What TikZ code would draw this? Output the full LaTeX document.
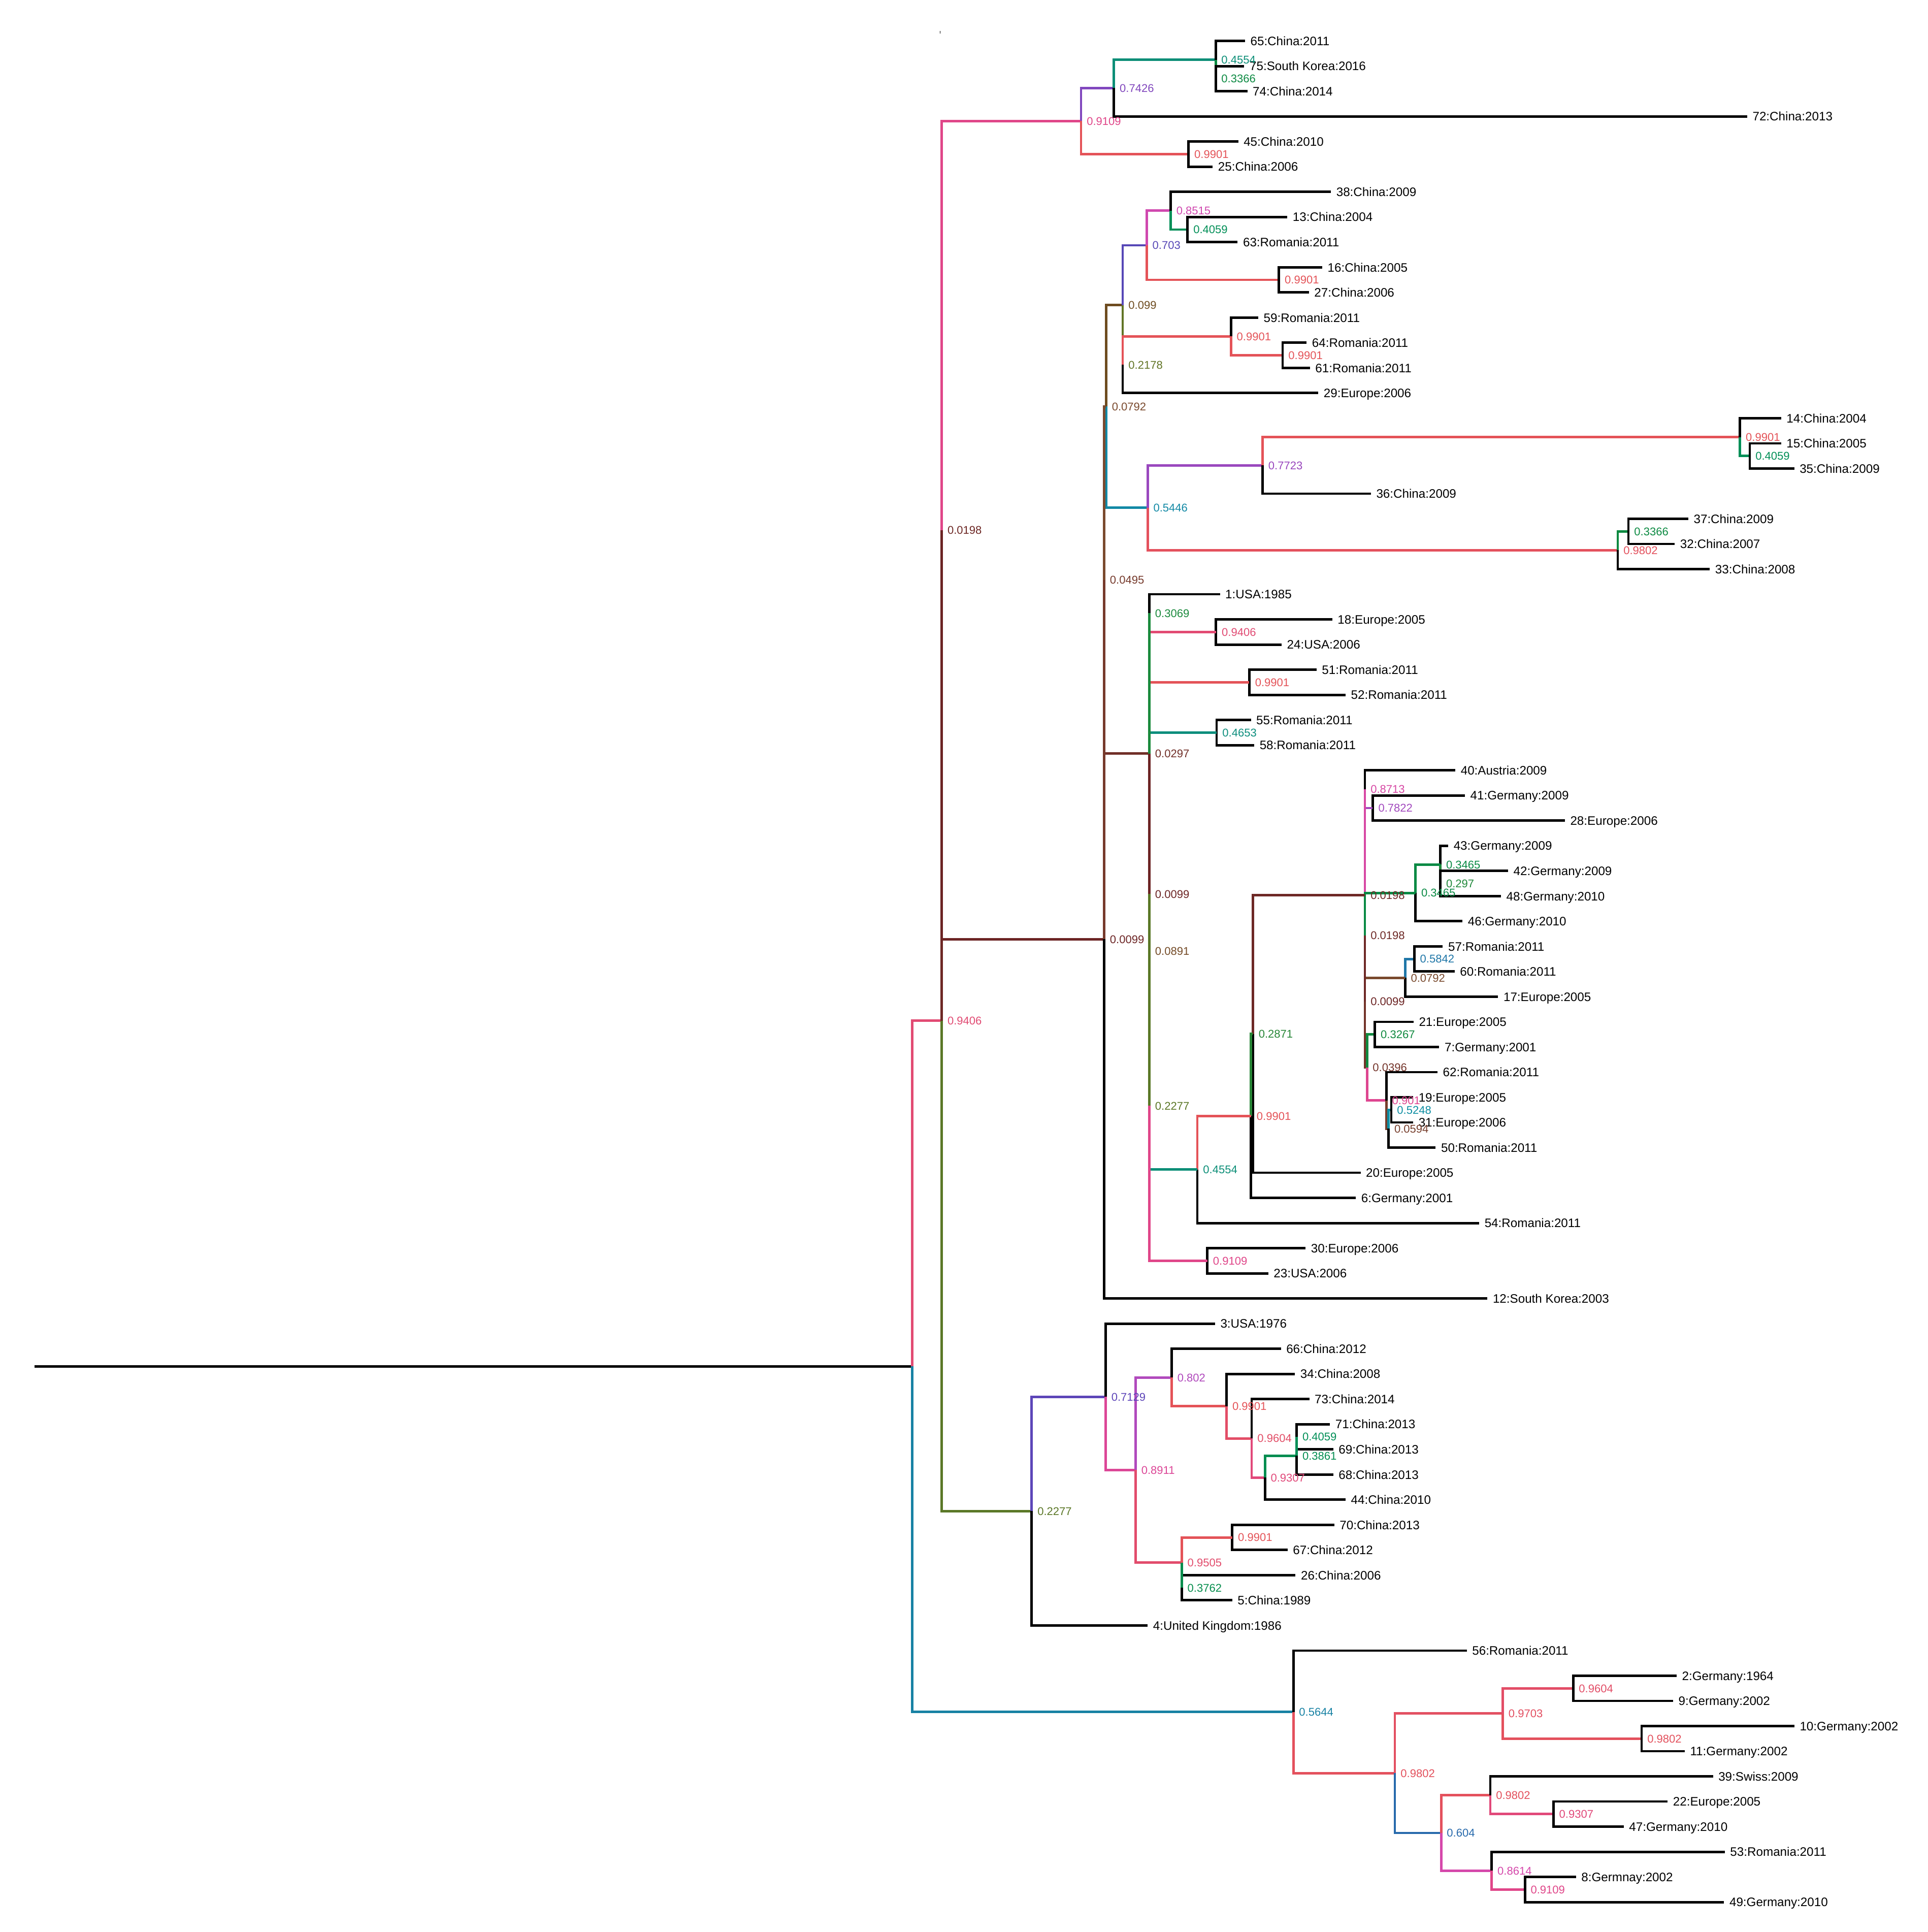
\documentclass[tikz,border=0pt]{standalone}
\usepackage{fontspec}
\setmainfont{Liberation Sans}
\usetikzlibrary{calc}
\pgfdeclarelayer{bg}
\pgfdeclarelayer{edges}
\pgfsetlayers{bg,edges,main}
\definecolor{a0}{HTML}{6C2424}
\definecolor{a1}{HTML}{763A2C}
\definecolor{a2}{HTML}{7A4A2E}
\definecolor{a3}{HTML}{6E4C20}
\definecolor{a4}{HTML}{627626}
\definecolor{a5}{HTML}{1E8A3C}
\definecolor{a6}{HTML}{0A8A42}
\definecolor{a7}{HTML}{008F58}
\definecolor{a8}{HTML}{0C8E7A}
\definecolor{a9}{HTML}{0E8EA6}
\definecolor{a10}{HTML}{1A80A4}
\definecolor{a11}{HTML}{2A66AE}
\definecolor{a12}{HTML}{5A46B8}
\definecolor{a13}{HTML}{8447BE}
\definecolor{a14}{HTML}{B04ABE}
\definecolor{a15}{HTML}{D548AC}
\definecolor{a16}{HTML}{E0468A}
\definecolor{a17}{HTML}{E24C6C}
\definecolor{a18}{HTML}{E45358}
\colorlet{supc}{black}
\newcommand\mixit[5]{\pgfmathsetmacro\mypp{100*(#3-#1)/(#3-#2)}\colorlet{supc}{#4!\mypp!#5}}
\newcommand\setsup[1]{%
\ifdim#1pt<0.05pt\relax\mixit{#1}{0.0099}{0.05}{a0}{a1}\else
\ifdim#1pt<0.08pt\relax\mixit{#1}{0.05}{0.08}{a1}{a2}\else
\ifdim#1pt<0.099pt\relax\mixit{#1}{0.08}{0.099}{a2}{a3}\else
\ifdim#1pt<0.22pt\relax\mixit{#1}{0.099}{0.22}{a3}{a4}\else
\ifdim#1pt<0.30pt\relax\mixit{#1}{0.22}{0.30}{a4}{a5}\else
\ifdim#1pt<0.34pt\relax\mixit{#1}{0.30}{0.34}{a5}{a6}\else
\ifdim#1pt<0.41pt\relax\mixit{#1}{0.34}{0.41}{a6}{a7}\else
\ifdim#1pt<0.46pt\relax\mixit{#1}{0.41}{0.46}{a7}{a8}\else
\ifdim#1pt<0.53pt\relax\mixit{#1}{0.46}{0.53}{a8}{a9}\else
\ifdim#1pt<0.57pt\relax\mixit{#1}{0.53}{0.57}{a9}{a10}\else
\ifdim#1pt<0.61pt\relax\mixit{#1}{0.57}{0.61}{a10}{a11}\else
\ifdim#1pt<0.71pt\relax\mixit{#1}{0.61}{0.71}{a11}{a12}\else
\ifdim#1pt<0.745pt\relax\mixit{#1}{0.71}{0.745}{a12}{a13}\else
\ifdim#1pt<0.80pt\relax\mixit{#1}{0.745}{0.80}{a13}{a14}\else
\ifdim#1pt<0.86pt\relax\mixit{#1}{0.80}{0.86}{a14}{a15}\else
\ifdim#1pt<0.91pt\relax\mixit{#1}{0.86}{0.91}{a15}{a16}\else
\ifdim#1pt<0.95pt\relax\mixit{#1}{0.91}{0.95}{a16}{a17}\else
\ifdim#1pt<0.99pt\relax\mixit{#1}{0.95}{0.99}{a17}{a18}\else
\colorlet{supc}{a18}%
\fi\fi\fi\fi\fi\fi\fi\fi\fi\fi\fi\fi\fi\fi\fi\fi\fi\fi}
\tikzset{
  treeline/.style={line width=2.0pt, line cap=butt, line join=miter},
  supcol/.code={\setsup{#1}},
  leaflab/.style={anchor=west, inner sep=0pt, xshift=4.2pt, font=\fontsize{10}{12}\selectfont, text height=7.2pt, text depth=0pt},
  suplab/.style={anchor=west, inner sep=0pt, xshift=4.5pt, font=\fontsize{9.1}{11}\selectfont, text height=6.5pt, text depth=0pt},
}
\newcommand\mkleaf[4]{\coordinate (#1) at (#3,{33.3+#2*20.455}); \node[leaflab] (#1l) at (#1) {#4};}
\newcommand\mknode[5]{\path let \p1=($(#3)!0.5!(#4)$) in (#2pt,\y1) coordinate (#1); \node[suplab,supcol=#5,text=supc] (#1l) at (#1) {#5};}
\newcommand\cedge[3]{\begin{pgfonlayer}{edges}\draw[treeline,supcol=#3,draw=supc] (#1) |- (#2);\end{pgfonlayer}}
\newcommand\tedge[2]{\begin{pgfonlayer}{edges}\draw[treeline,draw=black] (#1) |- (#2);\end{pgfonlayer}}
\begin{document}
\begin{tikzpicture}[x=1pt,y=-1pt]
\useasboundingbox (0,0) rectangle (1568,1571.3);
\begin{pgfonlayer}{bg}\fill[white] (0,0) rectangle (1568,1571.3);\end{pgfonlayer}
\begin{scope}
\clip (0,0) rectangle (1543.5,1571.3);
\coordinate (tickA) at (764.7,25.0);
\coordinate (tickB) at (764.7,27.3);
\draw[line width=0.6pt] (tickA) -- (tickB);
% leaves
\mkleaf{t65}{0}{1012.8}{65:China:2011}
\mkleaf{t75}{1}{1012.2}{75:South Korea:2016}
\mkleaf{t74}{2}{1014.7}{74:China:2014}
\mkleaf{t72}{3}{1421.3}{72:China:2013}
\mkleaf{t45}{4}{1007.3}{45:China:2010}
\mkleaf{t25}{5}{986.5}{25:China:2006}
\mkleaf{t38}{6}{1082.7}{38:China:2009}
\mkleaf{t13}{7}{1047.2}{13:China:2004}
\mkleaf{t63}{8}{1006.8}{63:Romania:2011}
\mkleaf{t16}{9}{1075.6}{16:China:2005}
\mkleaf{t27}{10}{1064.8}{27:China:2006}
\mkleaf{t59}{11}{1023.6}{59:Romania:2011}
\mkleaf{t64}{12}{1062.9}{64:Romania:2011}
\mkleaf{t61}{13}{1065.6}{61:Romania:2011}
\mkleaf{t29}{14}{1072.4}{29:Europe:2006}
\mkleaf{t14}{15}{1448.9}{14:China:2004}
\mkleaf{t15}{16}{1448.9}{15:China:2005}
\mkleaf{t35}{17}{1459.6}{35:China:2009}
\mkleaf{t36}{18}{1115.2}{36:China:2009}
\mkleaf{t37}{19}{1373.4}{37:China:2009}
\mkleaf{t32}{20}{1362.4}{32:China:2007}
\mkleaf{t33}{21}{1390.9}{33:China:2008}
\mkleaf{t1}{22}{992.4}{1:USA:1985}
\mkleaf{t18}{23}{1083.8}{18:Europe:2005}
\mkleaf{t24}{24}{1042.6}{24:USA:2006}
\mkleaf{t51}{25}{1071.0}{51:Romania:2011}
\mkleaf{t52}{26}{1094.6}{52:Romania:2011}
\mkleaf{t55}{27}{1017.6}{55:Romania:2011}
\mkleaf{t58}{28}{1020.3}{58:Romania:2011}
\mkleaf{t40}{29}{1183.9}{40:Austria:2009}
\mkleaf{t41}{30}{1191.7}{41:Germany:2009}
\mkleaf{t28}{31}{1273.0}{28:Europe:2006}
\mkleaf{t43}{32}{1178.1}{43:Germany:2009}
\mkleaf{t42}{33}{1226.8}{42:Germany:2009}
\mkleaf{t48}{34}{1221.0}{48:Germany:2010}
\mkleaf{t46}{35}{1189.7}{46:Germany:2010}
\mkleaf{t57}{36}{1173.7}{57:Romania:2011}
\mkleaf{t60}{37}{1183.3}{60:Romania:2011}
\mkleaf{t17}{38}{1218.7}{17:Europe:2005}
\mkleaf{t21}{39}{1149.9}{21:Europe:2005}
\mkleaf{t7}{40}{1170.8}{7:Germany:2001}
\mkleaf{t62}{41}{1169.4}{62:Romania:2011}
\mkleaf{t19}{42}{1149.6}{19:Europe:2005}
\mkleaf{t31}{43}{1149.6}{31:Europe:2006}
\mkleaf{t50}{44}{1167.9}{50:Romania:2011}
\mkleaf{t20}{45}{1106.8}{20:Europe:2005}
\mkleaf{t6}{46}{1103.0}{6:Germany:2001}
\mkleaf{t54}{47}{1203.3}{54:Romania:2011}
\mkleaf{t30}{48}{1062.1}{30:Europe:2006}
\mkleaf{t23}{49}{1031.7}{23:USA:2006}
\mkleaf{t12}{50}{1210.0}{12:South Korea:2003}
\mkleaf{t3}{51}{988.4}{3:USA:1976}
\mkleaf{t66}{52}{1042.0}{66:China:2012}
\mkleaf{t34}{53}{1053.4}{34:China:2008}
\mkleaf{t73}{54}{1065.1}{73:China:2014}
\mkleaf{t71}{55}{1081.9}{71:China:2013}
\mkleaf{t69}{56}{1084.6}{69:China:2013}
\mkleaf{t68}{57}{1084.6}{68:China:2013}
\mkleaf{t44}{58}{1094.6}{44:China:2010}
\mkleaf{t70}{59}{1085.4}{70:China:2013}
\mkleaf{t67}{60}{1047.4}{67:China:2012}
\mkleaf{t26}{61}{1053.9}{26:China:2006}
\mkleaf{t5}{62}{1002.4}{5:China:1989}
\mkleaf{t4}{63}{933.6}{4:United Kingdom:1986}
\mkleaf{t56}{64}{1193.2}{56:Romania:2011}
\mkleaf{t2}{65}{1363.9}{2:Germany:1964}
\mkleaf{t9}{66}{1361.0}{9:Germany:2002}
\mkleaf{t10}{67}{1459.7}{10:Germany:2002}
\mkleaf{t11}{68}{1370.5}{11:Germany:2002}
\mkleaf{t39}{69}{1393.5}{39:Swiss:2009}
\mkleaf{t22}{70}{1356.6}{22:Europe:2005}
\mkleaf{t47}{71}{1320.9}{47:Germany:2010}
\mkleaf{t53}{72}{1403.1}{53:Romania:2011}
\mkleaf{t8}{73}{1282.0}{8:Germnay:2002}
\mkleaf{t49}{74}{1402.5}{49:Germany:2010}
% internal nodes (children first)
\mknode{N3366a}{988.9}{t75}{t74}{0.3366}
\mknode{N4554a}{988.9}{t65}{N3366a}{0.4554}
\mknode{N7426}{906.2}{N4554a}{t72}{0.7426}
\mknode{N9901a}{966.9}{t45}{t25}{0.9901}
\mknode{N9109a}{879.4}{N7426}{N9901a}{0.9109}
\mknode{N4059a}{966.1}{t13}{t63}{0.4059}
\mknode{N8515}{952.3}{t38}{N4059a}{0.8515}
\mknode{N9901b}{1040.4}{t16}{t27}{0.9901}
\mknode{N703}{932.8}{N8515}{N9901b}{0.703}
\mknode{N9901d}{1043.4}{t64}{t61}{0.9901}
\mknode{N9901c}{1001.4}{t59}{N9901d}{0.9901}
\mknode{N2178}{913.3}{N9901c}{t29}{0.2178}
\mknode{N099}{913.3}{N703}{N2178}{0.099}
\mknode{N4059b}{1423.4}{t15}{t35}{0.4059}
\mknode{N9901e}{1415.5}{t14}{N4059b}{0.9901}
\mknode{N7723}{1027.1}{N9901e}{t36}{0.7723}
\mknode{N3366b}{1324.7}{t37}{t32}{0.3366}
\mknode{N9802a}{1316.0}{N3366b}{t33}{0.9802}
\mknode{N5446}{933.6}{N7723}{N9802a}{0.5446}
\mknode{N0792a}{899.8}{N099}{N5446}{0.0792}
\mknode{N9406b}{989.2}{t18}{t24}{0.9406}
\mknode{N3069}{935.0}{t1}{N9406b}{0.3069}
\mknode{N9901f}{1016.3}{t51}{t52}{0.9901}
\mknode{N4653}{989.7}{t55}{t58}{0.4653}
\mknode{N7822}{1116.6}{t41}{t28}{0.7822}
\mknode{N8713}{1110.3}{t40}{N7822}{0.8713}
\mknode{N297}{1171.7}{t42}{t48}{0.297}
\mknode{N3465a}{1171.7}{t43}{N297}{0.3465}
\mknode{N3465b}{1151.5}{N3465a}{t46}{0.3465}
\mknode{N5842}{1150.5}{t57}{t60}{0.5842}
\mknode{N0792b}{1143.0}{N5842}{t17}{0.0792}
\mknode{N0198c}{1110.3}{N3465b}{N0792b}{0.0198}
\mknode{N3267}{1118.5}{t21}{t7}{0.3267}
\mknode{N5248}{1131.8}{t19}{t31}{0.5248}
\mknode{N0594}{1129.6}{N5248}{t50}{0.0594}
\mknode{N901}{1127.8}{t62}{N0594}{0.901}
\mknode{N0396}{1112.0}{N3267}{N901}{0.0396}
\mknode{N0099c}{1110.3}{N0198c}{N0396}{0.0099}
\mknode{N0198b}{1110.3}{N8713}{N0099c}{0.0198}
\mknode{N2871}{1019.2}{N0198b}{t20}{0.2871}
\mknode{N9901g}{1017.6}{N2871}{t6}{0.9901}
\mknode{N4554c}{974.0}{N9901g}{t54}{0.4554}
\mknode{N0891}{935.0}{N4653}{N4554c}{0.0891}
\mknode{N9109c}{982.1}{t30}{t23}{0.9109}
\mknode{N2277b}{935.0}{N0891}{N9109c}{0.2277}
\mknode{N0099b}{935.0}{N9901f}{N2277b}{0.0099}
\mknode{N0297}{935.0}{N3069}{N0099b}{0.0297}
\mknode{N0495}{898.2}{N0792a}{N0297}{0.0495}
\mknode{N0099a}{898.2}{N0495}{t12}{0.0099}
\mknode{C0198}{766.1}{N9109a}{N0099a}{0.0198}
\mknode{N4059c}{1054.8}{t71}{t69}{0.4059}
\mknode{N3861}{1054.8}{N4059c}{t68}{0.3861}
\mknode{N9307a}{1029.0}{N3861}{t44}{0.9307}
\mknode{N9604a}{1018.2}{t73}{N9307a}{0.9604}
\mknode{N9901h}{997.8}{t34}{N9604a}{0.9901}
\mknode{N802}{953.1}{t66}{N9901h}{0.802}
\mknode{N9901i}{1002.4}{t70}{t67}{0.9901}
\mknode{N3762}{961.3}{t26}{t5}{0.3762}
\mknode{N9505}{961.3}{N9901i}{N3762}{0.9505}
\mknode{N8911}{923.8}{N802}{N9505}{0.8911}
\mknode{N7129}{899.4}{t3}{N8911}{0.7129}
\mknode{D2277}{839.3}{N7129}{t4}{0.2277}
\mknode{A9406}{766.1}{C0198}{D2277}{0.9406}
\mknode{N9604b}{1279.7}{t2}{t9}{0.9604}
\mknode{N9802c}{1335.4}{t10}{t11}{0.9802}
\mknode{N9703}{1222.5}{N9604b}{N9802c}{0.9703}
\mknode{N9307b}{1263.7}{t22}{t47}{0.9307}
\mknode{N9802d}{1212.3}{t39}{N9307b}{0.9802}
\mknode{N9109d}{1240.5}{t8}{t49}{0.9109}
\mknode{N8614}{1213.5}{t53}{N9109d}{0.8614}
\mknode{N604}{1172.3}{N9802d}{N8614}{0.604}
\mknode{N9802b}{1134.7}{N9703}{N604}{0.9802}
\mknode{B5644}{1052.1}{t56}{N9802b}{0.5644}
\path let \p1=($(A9406)!0.5!(B5644)$) in (742pt,\y1) coordinate (R) (28pt,\y1) coordinate (R0);
\end{scope}
% ---------- edges ----------
\begin{pgfonlayer}{edges}\draw[treeline,draw=black] (R0) -- (R);\end{pgfonlayer}
\cedge{R}{A9406}{0.9406}
\cedge{R}{B5644}{0.5644}
\cedge{A9406}{C0198}{0.0198}
\cedge{A9406}{D2277}{0.2277}
\cedge{C0198}{N9109a}{0.9109}
\cedge{C0198}{N0099a}{0.0099}
\cedge{N9109a}{N7426}{0.7426}
\cedge{N9109a}{N9901a}{0.9901}
\cedge{N7426}{N4554a}{0.4554}
\tedge{N7426}{t72}
\tedge{N4554a}{t65}
\cedge{N4554a}{N3366a}{0.3366}
\tedge{N3366a}{t75}
\tedge{N3366a}{t74}
\tedge{N9901a}{t45}
\tedge{N9901a}{t25}
\cedge{N0792a}{N099}{0.099}
\cedge{N0792a}{N5446}{0.5446}
\cedge{N099}{N703}{0.703}
\cedge{N099}{N2178}{0.2178}
\cedge{N703}{N8515}{0.8515}
\cedge{N703}{N9901b}{0.9901}
\tedge{N8515}{t38}
\cedge{N8515}{N4059a}{0.4059}
\tedge{N4059a}{t13}
\tedge{N4059a}{t63}
\tedge{N9901b}{t16}
\tedge{N9901b}{t27}
\cedge{N2178}{N9901c}{0.9901}
\tedge{N2178}{t29}
\tedge{N9901c}{t59}
\cedge{N9901c}{N9901d}{0.9901}
\tedge{N9901d}{t64}
\tedge{N9901d}{t61}
\cedge{N5446}{N7723}{0.7723}
\cedge{N5446}{N9802a}{0.9802}
\cedge{N7723}{N9901e}{0.9901}
\tedge{N7723}{t36}
\tedge{N9901e}{t14}
\cedge{N9901e}{N4059b}{0.4059}
\tedge{N4059b}{t15}
\tedge{N4059b}{t35}
\cedge{N9802a}{N3366b}{0.3366}
\tedge{N9802a}{t33}
\tedge{N3366b}{t37}
\tedge{N3366b}{t32}
\cedge{N0495}{N0792a}{0.0792}
\cedge{N0495}{N0297}{0.0297}
\cedge{N0099a}{N0495}{0.0495}
\tedge{N0099a}{t12}
\tedge{N9406b}{t18}
\tedge{N9406b}{t24}
\tedge{N3069}{t1}
\cedge{N3069}{N9406b}{0.9406}
\tedge{N9901f}{t51}
\tedge{N9901f}{t52}
\tedge{N4653}{t55}
\tedge{N4653}{t58}
\tedge{N7822}{t41}
\tedge{N7822}{t28}
\tedge{N8713}{t40}
\cedge{N8713}{N7822}{0.7822}
\cedge{N0198b}{N8713}{0.8713}
\cedge{N0198b}{N0099c}{0.0099}
\tedge{N3465a}{t43}
\cedge{N3465a}{N297}{0.297}
\tedge{N297}{t42}
\tedge{N297}{t48}
\cedge{N3465b}{N3465a}{0.3465}
\tedge{N3465b}{t46}
\cedge{N0792b}{N5842}{0.5842}
\tedge{N0792b}{t17}
\tedge{N5842}{t57}
\tedge{N5842}{t60}
\cedge{N0198c}{N3465b}{0.3465}
\cedge{N0198c}{N0792b}{0.0792}
\cedge{N0099c}{N0198c}{0.0198}
\cedge{N0099c}{N0396}{0.0396}
\cedge{N0396}{N3267}{0.3267}
\cedge{N0396}{N901}{0.901}
\tedge{N3267}{t21}
\tedge{N3267}{t7}
\tedge{N901}{t62}
\cedge{N901}{N0594}{0.0594}
\cedge{N0594}{N5248}{0.5248}
\tedge{N0594}{t50}
\tedge{N5248}{t19}
\tedge{N5248}{t31}
\cedge{N2871}{N0198b}{0.0198}
\tedge{N2871}{t20}
\cedge{N9901g}{N2871}{0.2871}
\tedge{N9901g}{t6}
\cedge{N4554c}{N9901g}{0.9901}
\tedge{N4554c}{t54}
\cedge{N0891}{N4653}{0.4653}
\cedge{N0891}{N4554c}{0.4554}
\tedge{N9109c}{t30}
\tedge{N9109c}{t23}
\cedge{N2277b}{N0891}{0.0891}
\cedge{N2277b}{N9109c}{0.9109}
\cedge{N0099b}{N9901f}{0.9901}
\cedge{N0099b}{N2277b}{0.2277}
\cedge{N0297}{N3069}{0.3069}
\cedge{N0297}{N0099b}{0.0099}
\cedge{D2277}{N7129}{0.7129}
\tedge{D2277}{t4}
\tedge{N7129}{t3}
\cedge{N7129}{N8911}{0.8911}
\cedge{N8911}{N802}{0.802}
\cedge{N8911}{N9505}{0.9505}
\tedge{N802}{t66}
\cedge{N802}{N9901h}{0.9901}
\tedge{N9901h}{t34}
\cedge{N9901h}{N9604a}{0.9604}
\tedge{N9604a}{t73}
\cedge{N9604a}{N9307a}{0.9307}
\cedge{N9307a}{N3861}{0.3861}
\tedge{N9307a}{t44}
\tedge{N4059c}{t71}
\tedge{N4059c}{t69}
\cedge{N3861}{N4059c}{0.4059}
\tedge{N3861}{t68}
\tedge{N9901i}{t70}
\tedge{N9901i}{t67}
\tedge{N3762}{t26}
\tedge{N3762}{t5}
\cedge{N9505}{N9901i}{0.9901}
\cedge{N9505}{N3762}{0.3762}
\tedge{B5644}{t56}
\cedge{B5644}{N9802b}{0.9802}
\cedge{N9802b}{N9703}{0.9703}
\cedge{N9802b}{N604}{0.604}
\cedge{N9703}{N9604b}{0.9604}
\cedge{N9703}{N9802c}{0.9802}
\tedge{N9604b}{t2}
\tedge{N9604b}{t9}
\tedge{N9802c}{t10}
\tedge{N9802c}{t11}
\cedge{N604}{N9802d}{0.9802}
\cedge{N604}{N8614}{0.8614}
\tedge{N9802d}{t39}
\cedge{N9802d}{N9307b}{0.9307}
\tedge{N9307b}{t22}
\tedge{N9307b}{t47}
\tedge{N8614}{t53}
\cedge{N8614}{N9109d}{0.9109}
\tedge{N9109d}{t8}
\tedge{N9109d}{t49}
\end{tikzpicture}
\end{document}
